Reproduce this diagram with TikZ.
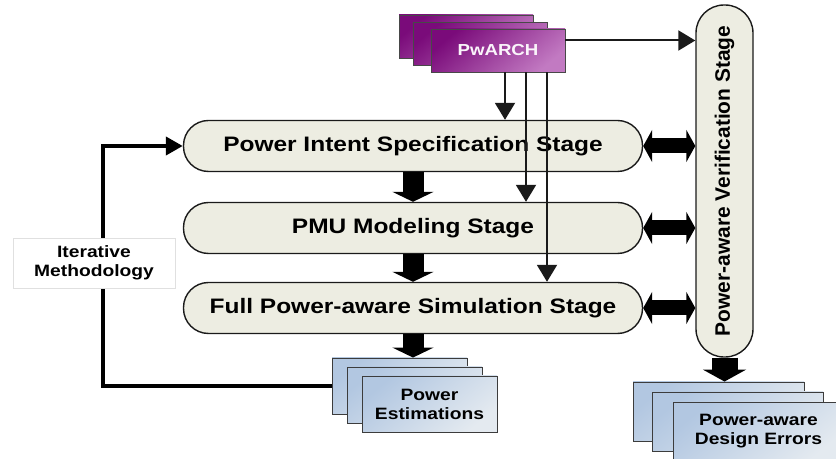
\documentclass[tikz,border=0pt]{standalone}
\usepackage{fontspec}
\usepackage{graphicx}
\setmainfont{Liberation Sans}[FakeStretch=1.17]
\newfontfamily\plainsans{Liberation Sans}
\usepackage{tikz}
\usetikzlibrary{arrows.meta,positioning,shapes.misc}
\definecolor{outline}{HTML}{1A1A1A}
\definecolor{stagefill}{HTML}{EDEDE2}
\definecolor{plumdark}{HTML}{7A0B7A}
\definecolor{plumlight}{HTML}{C27AC2}
\definecolor{bluedark}{HTML}{B2C7E1}
\definecolor{bluelight}{HTML}{E4EAF0}
\definecolor{tagline}{HTML}{E0E0E0}
\tikzset{
  stage/.style={rectangle, rounded corners=25bp, draw=outline, fill=stagefill, line width=1.4pt,
                minimum width=459bp, minimum height=51bp, inner sep=0pt,
                font=\fontsize{21}{24}\selectfont\bfseries},
  verif/.style={rectangle, rounded corners=28bp, draw=outline, fill=stagefill, line width=1.4pt,
                minimum width=57bp, minimum height=352bp, inner sep=0pt,
                font=\plainsans\fontsize{21}{24}\selectfont\bfseries},
  archbox/.style={rectangle, draw=outline!80, line width=0.8pt, minimum width=134bp, minimum height=43bp,
                  top color=plumdark, bottom color=plumlight, shading angle=40, text=white!92!plumlight,
                  font=\fontsize{16}{19}\selectfont\bfseries},
  resbox/.style={rectangle, draw=outline!85, line width=0.9pt, align=center, inner sep=0pt,
                 top color=bluedark, bottom color=bluelight, shading angle=40,
                 font=\fontsize{16.5}{19}\selectfont\bfseries},
  tag/.style={rectangle, draw=tagline, fill=white, align=center, minimum width=162bp, minimum height=50bp,
              font=\fontsize{16.5}{19}\selectfont\bfseries},
  thin/.style={-{Triangle[width=20bp,length=17bp]}, draw=outline, line width=2bp},
  bigflow/.style={-{Triangle[width=41bp,length=10bp]}, draw=black, line width=21bp},
  bigflow2/.style={-{Triangle[width=43bp,length=12bp]}, draw=black, line width=26bp},
  both/.style={{Triangle[width=32bp,length=9bp]}-{Triangle[width=32bp,length=9bp]}, draw=black, line width=15bp},
  back/.style={-{Triangle[width=18bp,length=17bp]}, draw=black, line width=4bp}
}

\begin{document}
\begin{tikzpicture}[x=1bp, y=-1bp]
  \useasboundingbox (0,0) rectangle (836,459);
  % main flow
  \node[stage] (psp) at (413,146) {Power Intent Specification Stage};
  \node[stage] (pmu) at (413,228) {PMU Modeling Stage};
  \node[stage] (full) at (413,308) {Full Power-aware Simulation Stage};
  \node[verif] (ver) at (724.5,181) {\rotatebox{90}{Power-aware Verification Stage}};
  % architecture input
  \node[archbox] (arch3) at (466,36.5) {};
  \node[archbox] (arch2) at (480,44) {};
  \node[archbox] (arch) at (498,50.5) {PwARCH};
  % results
  \node[resbox, minimum width=135bp, minimum height=56bp] (est3) at (399.5,386) {};
  \node[resbox, minimum width=135bp, minimum height=56bp] (est2) at (414.5,395) {};
  \node[resbox, minimum width=135bp, minimum height=56bp] (est) at (429.5,404) {Power\\Estimations};
  \node[resbox, minimum width=171bp, minimum height=59bp] (err3) at (718.5,411.5) {};
  \node[resbox, minimum width=171bp, minimum height=59bp] (err2) at (737.5,421.5) {};
  \node[resbox, minimum width=171bp, minimum height=59bp] (err) at (758.5,431.5) {Power-aware\\Design Errors};
  % connectors
  \draw[bigflow] (psp.south) -- (pmu.north);
  \draw[bigflow] (pmu.south) -- (full.north);
  \draw[bigflow] (full.south) -- (full.south |- est3.north);
  \draw[bigflow2] (ver.south) -- (ver.south |- err3.north);
  \foreach \s in {psp,pmu,full} \draw[both] (\s.east) -- (\s.east -| ver.west);
  \draw[thin] ([yshift=10bp]arch.east) -- ([yshift=10bp]arch.east -| ver.west);
  \draw[thin] ([xshift=7bp]arch.south) -- ([xshift=7bp]arch.south |- psp.north);
  \draw[thin] ([xshift=28bp]arch.south) -- ([xshift=28bp]arch.south |- pmu.north);
  \draw[thin] ([xshift=49bp]arch.south) -- ([xshift=49bp]arch.south |- full.north);
  % iteration loop
  \coordinate (turn) at (103,146);
  \draw[back] (est3.west) -| (turn) -- (psp.west);
  \node[tag] (iter) at (94,263) {Iterative\\Methodology};
\end{tikzpicture}
\end{document}
